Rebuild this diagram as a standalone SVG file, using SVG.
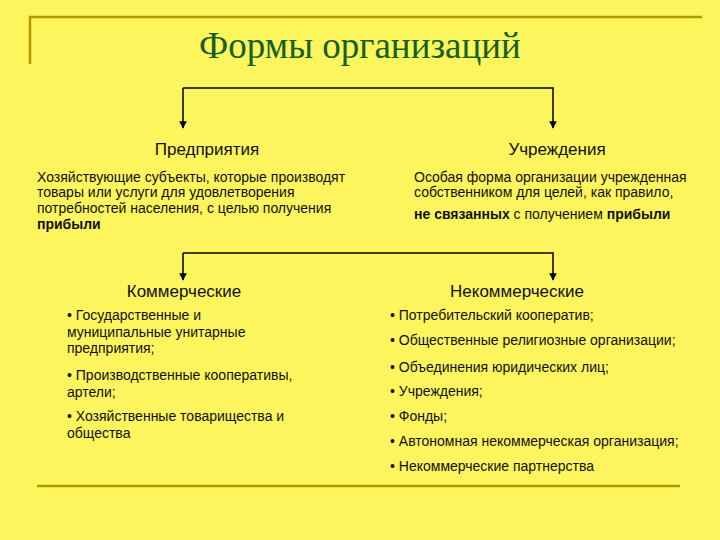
<svg xmlns="http://www.w3.org/2000/svg" width="720" height="540" viewBox="0 0 720 540">
<style>
.t{font-family:"Liberation Sans",Arial,sans-serif;fill:#111}
.h{font-size:17px}
.s{font-size:14px}
.c{stroke:#000;stroke-width:1.5;fill:none}
.b{stroke:#B39A00;stroke-width:2.5;fill:none}
</style>
<defs><marker id="a" viewBox="0 0 10 10" refX="9" refY="5" markerWidth="5" markerHeight="5" orient="auto"><path d="M0,0L10,5L0,10z" fill="#000"/></marker></defs>
<rect width="720" height="540" fill="#FDF55E"/>
<path class="b" d="M30,64V17H702"/>
<path class="b" d="M37,486H680"/>
<text x="360" y="58" text-anchor="middle" style="font-family:'Liberation Serif',serif;font-size:37px;fill:#16601E">Формы организаций</text>
<g id="connectors">
<path class="c" d="M183,88H553V128" marker-end="url(#a)"/>
<path class="c" d="M183,88V128" marker-end="url(#a)"/>
<path class="c" d="M183,253H553V280" marker-end="url(#a)"/>
<path class="c" d="M183,253V280" marker-end="url(#a)"/>
</g>
<g id="predpriyatiya" class="t">
<text x="207" y="155" text-anchor="middle" class="h">Предприятия</text>
<text class="s" x="37" y="182">Хозяйствующие субъекты, которые производят</text>
<text class="s" x="37" y="197">товары или услуги для удовлетворения</text>
<text class="s" x="37" y="213">потребностей населения, с целью получения</text>
<text class="s" x="37" y="229" font-weight="bold">прибыли</text>
</g>
<g id="uchrezhdeniya" class="t">
<text x="557" y="155" text-anchor="middle" class="h">Учреждения</text>
<text class="s" x="414" y="182">Особая форма организации учрежденная</text>
<text class="s" x="414" y="197">собственником для целей, как правило,</text>
<text class="s" x="414" y="219"><tspan font-weight="bold">не связанных</tspan> с получением <tspan font-weight="bold">прибыли</tspan></text>
</g>
<g id="kommercheskie" class="t">
<text x="184" y="297" text-anchor="middle" class="h">Коммерческие</text>
<text class="s" x="67" y="320">• Государственные и</text>
<text class="s" x="67" y="337">муниципальные  унитарные</text>
<text class="s" x="67" y="353">предприятия;</text>
<text class="s" x="67" y="380">• Производственные кооперативы,</text>
<text class="s" x="67" y="397">артели;</text>
<text class="s" x="67" y="421">• Хозяйственные товарищества и</text>
<text class="s" x="67" y="438">общества</text>
</g>
<g id="nekommercheskie" class="t">
<text x="517" y="297" text-anchor="middle" class="h">Некоммерческие</text>
<text class="s" x="390" y="320">• Потребительский кооператив;</text>
<text class="s" x="390" y="345">• Общественные религиозные организации;</text>
<text class="s" x="390" y="372">• Объединения юридических  лиц;</text>
<text class="s" x="390" y="396">• Учреждения;</text>
<text class="s" x="390" y="421">• Фонды;</text>
<text class="s" x="390" y="446">• Автономная некоммерческая организация;</text>
<text class="s" x="390" y="471">• Некоммерческие партнерства</text>
</g>
</svg>
